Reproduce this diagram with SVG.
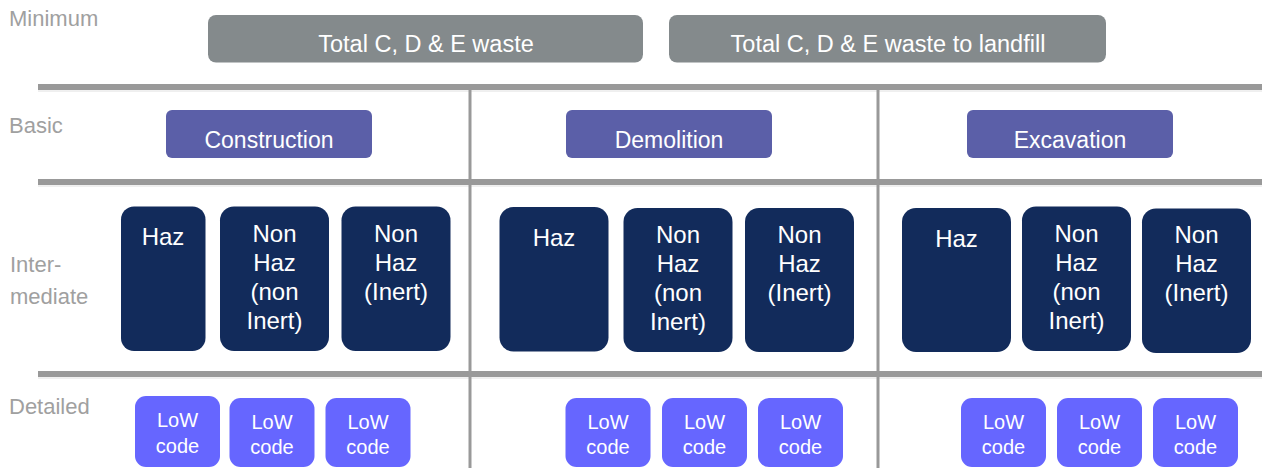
<svg xmlns="http://www.w3.org/2000/svg" width="1262" height="468" viewBox="0 0 1262 468">
<style>
  text { font-family: "Liberation Sans", Arial, sans-serif; }
  .lbl { fill: #A0A0A0; font-size: 22px; }
  .min rect { fill: #848A8C; }
  .min text { fill: #FFFFFF; font-size: 23.5px; text-anchor: middle; }
  .basic rect { fill: #5B5FA8; }
  .basic text { fill: #FFFFFF; font-size: 23px; text-anchor: middle; }
  .inter rect { fill: #122B5B; }
  .inter text { fill: #FFFFFF; font-size: 24px; text-anchor: middle; }
  .det rect { fill: #6666FF; }
  .det text { fill: #FFFFFF; font-size: 20px; text-anchor: middle; }
  .hline { stroke: #999999; stroke-width: 6; }
  .hshadow { stroke: #E0E0E0; stroke-width: 1; }
  .vline { stroke: #999999; stroke-width: 3; }
</style>

<g id="connectors">
  <line class="hshadow" x1="38" y1="91" x2="1262" y2="91"/>
  <line class="hshadow" x1="38" y1="186" x2="1262" y2="186"/>
  <line class="hshadow" x1="38" y1="378" x2="1262" y2="378"/>
  <line class="vline" x1="470" y1="87" x2="470" y2="468"/>
  <line class="vline" x1="878" y1="87" x2="878" y2="468"/>
  <line class="hline" x1="38" y1="87" x2="1262" y2="87"/>
  <line class="hline" x1="38" y1="182" x2="1262" y2="182"/>
  <line class="hline" x1="38" y1="374" x2="1262" y2="374"/>
</g>

<g id="labels">
  <text class="lbl" x="9" y="26">Minimum</text>
  <text class="lbl" x="9" y="132.5">Basic</text>
  <text class="lbl" x="10" y="271.5">Inter-</text>
  <text class="lbl" x="10" y="304">mediate</text>
  <text class="lbl" x="9" y="414">Detailed</text>
</g>

<g id="min-total" class="min">
  <rect x="208" y="15" width="435" height="47.5" rx="8"/>
  <text x="426" y="52">Total C, D &amp; E waste</text>
</g>
<g id="min-landfill" class="min">
  <rect x="669" y="15" width="437" height="47.5" rx="8"/>
  <text x="888" y="52">Total C, D &amp; E waste to landfill</text>
</g>

<g id="basic-construction" class="basic">
  <rect x="166" y="110" width="206" height="48" rx="6"/>
  <text x="269" y="148">Construction</text>
</g>
<g id="basic-demolition" class="basic">
  <rect x="566" y="110" width="206" height="48" rx="6"/>
  <text x="669" y="148">Demolition</text>
</g>
<g id="basic-excavation" class="basic">
  <rect x="967" y="110" width="206" height="48" rx="6"/>
  <text x="1070" y="148">Excavation</text>
</g>

<g id="c-haz" class="inter">
  <rect x="121" y="206.5" width="84.5" height="144.5" rx="13"/>
  <text x="163" y="245">Haz</text>
</g>
<g id="c-nonhaz-noninert" class="inter">
  <rect x="220" y="206.5" width="109" height="144.5" rx="14"/>
  <text x="274.5" y="242">Non</text>
  <text x="274.5" y="271">Haz</text>
  <text x="274.5" y="300">(non</text>
  <text x="274.5" y="329">Inert)</text>
</g>
<g id="c-nonhaz-inert" class="inter">
  <rect x="341.5" y="206.5" width="109" height="144.5" rx="14"/>
  <text x="396" y="242">Non</text>
  <text x="396" y="271">Haz</text>
  <text x="396" y="300">(Inert)</text>
</g>

<g id="d-haz" class="inter">
  <rect x="499.5" y="207" width="109" height="144.5" rx="14"/>
  <text x="554" y="246">Haz</text>
</g>
<g id="d-nonhaz-noninert" class="inter">
  <rect x="623.5" y="208" width="109" height="144" rx="14"/>
  <text x="678" y="243">Non</text>
  <text x="678" y="272">Haz</text>
  <text x="678" y="301">(non</text>
  <text x="678" y="330">Inert)</text>
</g>
<g id="d-nonhaz-inert" class="inter">
  <rect x="745" y="208" width="109" height="144" rx="14"/>
  <text x="799.5" y="243">Non</text>
  <text x="799.5" y="272">Haz</text>
  <text x="799.5" y="301">(Inert)</text>
</g>

<g id="e-haz" class="inter">
  <rect x="902" y="208" width="109" height="144" rx="14"/>
  <text x="956.5" y="247">Haz</text>
</g>
<g id="e-nonhaz-noninert" class="inter">
  <rect x="1022" y="206.5" width="109" height="144.5" rx="14"/>
  <text x="1076.5" y="242">Non</text>
  <text x="1076.5" y="271">Haz</text>
  <text x="1076.5" y="300">(non</text>
  <text x="1076.5" y="329">Inert)</text>
</g>
<g id="e-nonhaz-inert" class="inter">
  <rect x="1142" y="208.5" width="109" height="144.5" rx="14"/>
  <text x="1196.5" y="243">Non</text>
  <text x="1196.5" y="272">Haz</text>
  <text x="1196.5" y="301">(Inert)</text>
</g>

<g id="c-low1" class="det">
  <rect x="135" y="396" width="85" height="71" rx="11"/>
  <text x="177.5" y="427">LoW</text>
  <text x="177.5" y="452.5">code</text>
</g>
<g id="c-low2" class="det">
  <rect x="229.5" y="398" width="85" height="69" rx="11"/>
  <text x="272" y="429">LoW</text>
  <text x="272" y="454">code</text>
</g>
<g id="c-low3" class="det">
  <rect x="325.5" y="398" width="85" height="69" rx="11"/>
  <text x="368" y="429">LoW</text>
  <text x="368" y="454">code</text>
</g>

<g id="d-low1" class="det">
  <rect x="565.5" y="398" width="85" height="69" rx="11"/>
  <text x="608" y="429">LoW</text>
  <text x="608" y="454">code</text>
</g>
<g id="d-low2" class="det">
  <rect x="662" y="398" width="85" height="69" rx="11"/>
  <text x="704.5" y="429">LoW</text>
  <text x="704.5" y="454">code</text>
</g>
<g id="d-low3" class="det">
  <rect x="758" y="398" width="85" height="69" rx="11"/>
  <text x="800.5" y="429">LoW</text>
  <text x="800.5" y="454">code</text>
</g>

<g id="e-low1" class="det">
  <rect x="961" y="398" width="85" height="69" rx="11"/>
  <text x="1003.5" y="429">LoW</text>
  <text x="1003.5" y="454">code</text>
</g>
<g id="e-low2" class="det">
  <rect x="1057" y="398" width="85" height="69" rx="11"/>
  <text x="1099.5" y="429">LoW</text>
  <text x="1099.5" y="454">code</text>
</g>
<g id="e-low3" class="det">
  <rect x="1153" y="398" width="85" height="69" rx="11"/>
  <text x="1195.5" y="429">LoW</text>
  <text x="1195.5" y="454">code</text>
</g>
</svg>
